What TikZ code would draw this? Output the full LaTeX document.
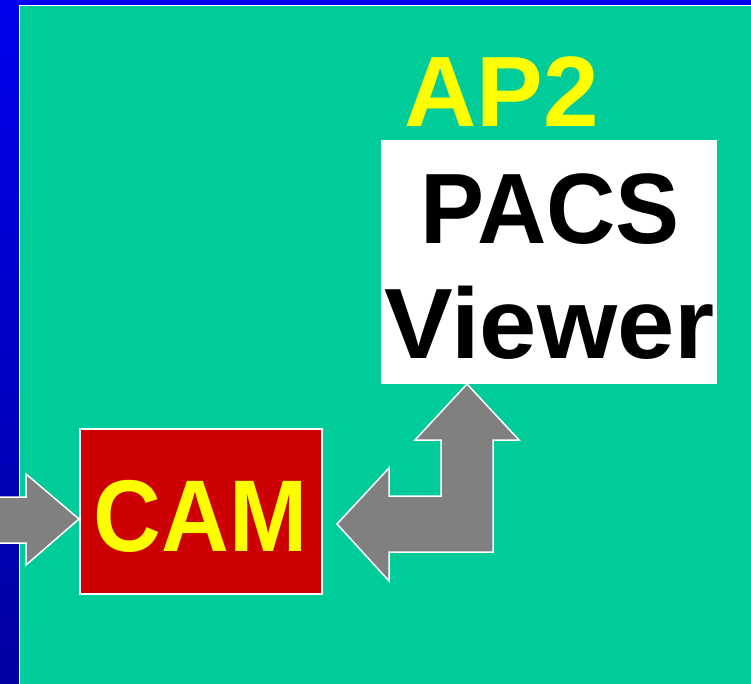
\documentclass[tikz,border=0pt]{standalone}
\usepackage{fontspec}
\setmainfont{Liberation Sans}
\definecolor{bgblueT}{RGB}{0,0,238}
\definecolor{bgblueB}{RGB}{0,0,160}
\definecolor{teal}{RGB}{0,204,153}
\definecolor{camred}{RGB}{204,0,0}
\definecolor{yel}{RGB}{255,255,0}
\definecolor{arrgray}{RGB}{128,128,128}
\tikzset{
  blockarrow/.style={fill=arrgray, draw=white, line width=1.5pt, line join=miter},
  boxnode/.style={draw=white, line width=1.2pt, inner sep=0pt},
  bigtext/.style={font=\fontsize{100}{115}\selectfont\bfseries, inner sep=0pt, anchor=base}
}
\begin{document}
\begin{tikzpicture}[x=1pt,y=-1pt]
\useasboundingbox (0,0) rectangle (751,683);
\shade[top color=bgblueT, bottom color=bgblueB] (0,0) rectangle (751,683);
\fill[white] (18.5,4.5) rectangle (751,684);
\fill[teal] (20,6) rectangle (752,684);
% boxes
\node[boxnode, fill=camred, minimum width=242pt, minimum height=165pt] (cam) at (201,511.5) {};
\node[boxnode, fill=white, minimum width=334pt, minimum height=242pt] (pacs) at (549,262) {};
% texts
\node[bigtext, text=yel, font=\fontsize{102}{115}\selectfont\bfseries, xscale=0.92] (camlbl) at (200.5,551) {CAM};
\node[bigtext, text=yel] (ap2) at (501.5,126) {AP2};
\node[bigtext, text=black, xscale=0.96] (pacslbl) at (550,243) {PACS};
\node[bigtext, text=black, xscale=1.03] (viewlbl) at (549.5,358) {Viewer};
% left arrow into CAM
\coordinate (ltip) at (79,519);
\draw[blockarrow] (-2,497) -- (26,497) -- (26,474) -- (ltip) -- (26,565) -- (26,543) -- (-2,543);
% bent double arrow CAM <-> PACS
\coordinate (ctip) at (337,524);
\coordinate (ptip) at (467,384);
\draw[blockarrow] (ctip) -- (389,468) -- (389,496) -- (441,496) -- (441,440) -- (415,440) -- (ptip) -- (519,440) -- (493,440) -- (493,552) -- (389,552) -- (389,581) -- cycle;
\end{tikzpicture}
\end{document}
